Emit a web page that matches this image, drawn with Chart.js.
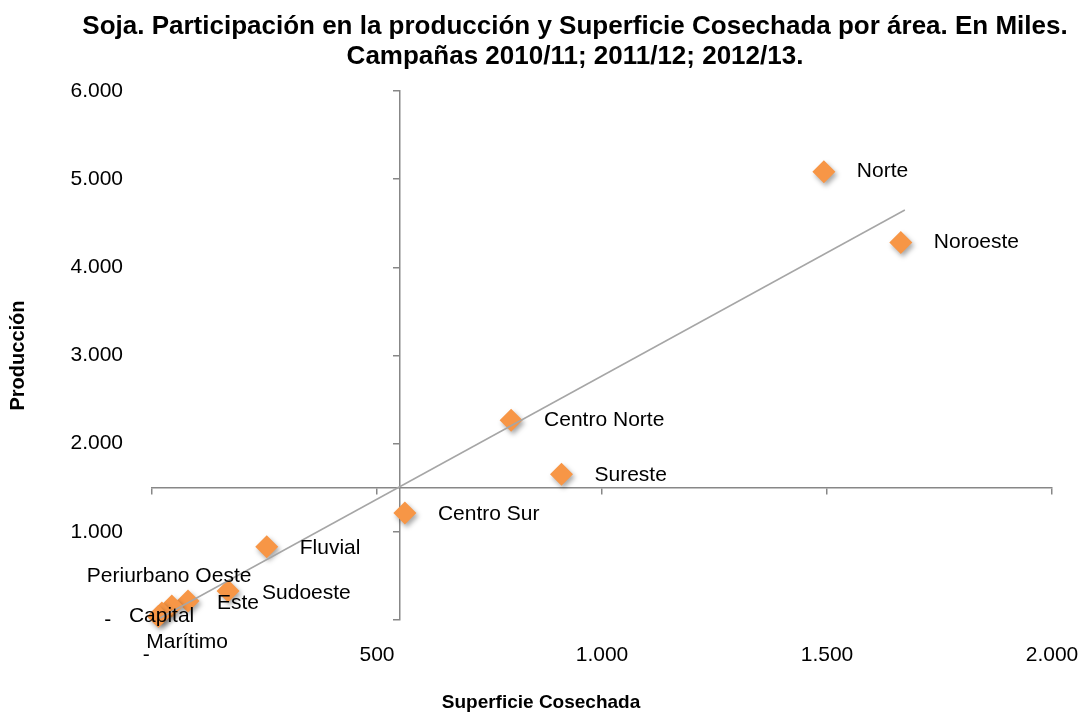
<!DOCTYPE html>
<html>
<head>
<meta charset="utf-8">
<script src="https://cdn.jsdelivr.net/npm/chart.js@4/dist/chart.umd.min.js"></script>
<style>
  body { margin: 0; background: #fff; }
  #caja { width: 1080px; height: 713px; position: relative; }
</style>
</head>
<body>
<div id="caja"><canvas id="grafico"></canvas></div>
<script>
// Datos (miles)
var regiones = ["Norte", "Noroeste", "Centro Norte", "Sureste", "Centro Sur", "Fluvial",
  "Sudoeste", "Este", "Periurbano Oeste", "Capital", "Marítimo"];
var superficie = [1493, 1664, 798, 910, 562, 255, 169, 80, 44, 22, 14];
var produccion = [5085, 4281, 2265, 1653, 1215, 830, 328, 215, 158, 80, 40];

// linea de tendencia (extremos)
var tendenciaX = [18, 1673];
var tendenciaY = [23, 4650];

// etiquetas de los ejes
var etiquetasX = ["-", "500", "1.000", "1.500", "2.000"];
var etiquetasY = ["-", "1.000", "2.000", "3.000", "4.000", "5.000", "6.000"];

var tituloLineas = [
  "Soja. Participación en la producción y Superficie Cosechada por área. En Miles.",
  "Campañas 2010/11; 2011/12; 2012/13."
];
var tituloX = "Superficie Cosechada";
var tituloY = "Producción";

// desplazamiento de cada etiqueta respecto del punto (px)
var desplazamientos = [[33, 0], [33, 0], [33, 0], [33, 1], [33, 1], [33, 1],
  [34, 2], [29, 2], [-85, -30], [-33, 3], [-12, 26]];

var fuente = '"Liberation Sans", Arial, Helvetica, sans-serif';
var gris = "#878787";
var naranja = "#F79646";

var puntos = superficie.map(function (v, i) { return { x: v, y: produccion[i] }; });
var tendencia = tendenciaX.map(function (v, i) { return { x: v, y: tendenciaY[i] }; });

function etiqueta(lista) {
  return function (valor, i) {
    var t = lista[i];
    return t === "-" ? "-  " : t;
  };
}

// sombra de los rombos
var sombra = {
  id: "sombra",
  beforeDatasetDraw: function (chart, args) {
    if (args.index !== 1) return;
    var ctx = chart.ctx;
    ctx.save();
    ctx.shadowColor = "rgba(0,0,0,0.35)";
    ctx.shadowBlur = 5;
    ctx.shadowOffsetX = 2;
    ctx.shadowOffsetY = 3;
  },
  afterDatasetDraw: function (chart, args) {
    if (args.index !== 1) return;
    chart.ctx.restore();
  }
};

// nombres de las areas junto a cada punto
var etiquetasPuntos = {
  id: "etiquetasPuntos",
  afterDatasetsDraw: function (chart) {
    var ctx = chart.ctx;
    var meta = chart.getDatasetMeta(1);
    ctx.save();
    ctx.font = "21px " + fuente;
    ctx.fillStyle = "#000";
    ctx.textAlign = "left";
    ctx.textBaseline = "middle";
    meta.data.forEach(function (p, i) {
      ctx.fillText(regiones[i], p.x + desplazamientos[i][0], p.y + desplazamientos[i][1]);
    });
    ctx.restore();
  }
};

// titulo principal y titulo del eje x
var titulos = {
  id: "titulos",
  afterDraw: function (chart) {
    var ctx = chart.ctx;
    ctx.save();
    ctx.fillStyle = "#000";
    ctx.textAlign = "center";
    ctx.textBaseline = "middle";
    ctx.font = "bold 26px " + fuente;
    tituloLineas.forEach(function (t, i) {
      ctx.fillText(t, 575, 27 + i * 30);
    });
    ctx.font = "bold 19px " + fuente;
    ctx.fillText(tituloX, 541, 703);
    ctx.restore();
  }
};

var ctx = document.getElementById("grafico").getContext("2d");
new Chart(ctx, {
  type: "scatter",
  data: {
    datasets: [
      {
        label: "Tendencia",
        data: tendencia,
        showLine: true,
        pointRadius: 0,
        borderColor: "#a6a6a6",
        borderWidth: 1.5,
        xAxisID: "x",
        yAxisID: "y"
      },
      {
        label: "Áreas",
        data: puntos,
        pointStyle: "rectRot",
        pointRadius: 11.5,
        pointHoverRadius: 11.5,
        backgroundColor: naranja,
        borderColor: naranja,
        borderWidth: 0,
        clip: false,
        xAxisID: "x",
        yAxisID: "y"
      }
    ]
  },
  options: {
    responsive: true,
    maintainAspectRatio: false,
    animation: false,
    devicePixelRatio: 1,
    layout: { padding: { top: 91, right: 28, bottom: 0, left: 0 } },
    plugins: {
      legend: { display: false },
      tooltip: { enabled: false },
      title: { display: false }
    },
    scales: {
      // ejes que se cruzan en (550, 1500)
      x: {
        type: "linear",
        position: { y: 1500 },
        min: 0, max: 2000,
        ticks: { display: false, stepSize: 500 },
        grid: { drawOnChartArea: false, drawTicks: true, tickLength: 6, color: gris, lineWidth: 1.5 },
        border: { color: gris, width: 1.5 }
      },
      y: {
        type: "linear",
        position: { x: 550 },
        min: 0, max: 6000,
        ticks: { display: false, stepSize: 1000 },
        grid: { drawOnChartArea: false, drawTicks: true, tickLength: 6, color: gris, lineWidth: 1.5 },
        border: { color: gris, width: 1.5 }
      },
      // etiquetas abajo y a la izquierda
      xb: {
        axis: "x",
        type: "linear",
        position: "bottom",
        min: 0, max: 2000,
        grid: { display: false, drawTicks: false, tickLength: 0 },
        border: { display: false },
        ticks: {
          stepSize: 500, padding: 23, color: "#000", maxRotation: 0,
          font: { family: fuente, size: 21 },
          callback: etiqueta(etiquetasX)
        },
        afterFit: function (s) { s.height = 93; s.paddingLeft = 0; s.paddingRight = 0; }
      },
      yl: {
        axis: "y",
        type: "linear",
        position: "left",
        min: 0, max: 6000,
        grid: { display: false, drawTicks: false, tickLength: 0 },
        border: { display: false },
        ticks: {
          stepSize: 1000, padding: 29, color: "#000",
          font: { family: fuente, size: 21 },
          callback: etiqueta(etiquetasY)
        },
        title: {
          display: true,
          text: tituloY,
          color: "#000",
          font: { family: fuente, size: 20, weight: "bold" },
          padding: { top: 6, bottom: 0 }
        },
        afterFit: function (s) { s.width = 152; s.paddingTop = 0; s.paddingBottom = 0; }
      }
    }
  },
  plugins: [sombra, etiquetasPuntos, titulos]
});
</script>
</body>
</html>
